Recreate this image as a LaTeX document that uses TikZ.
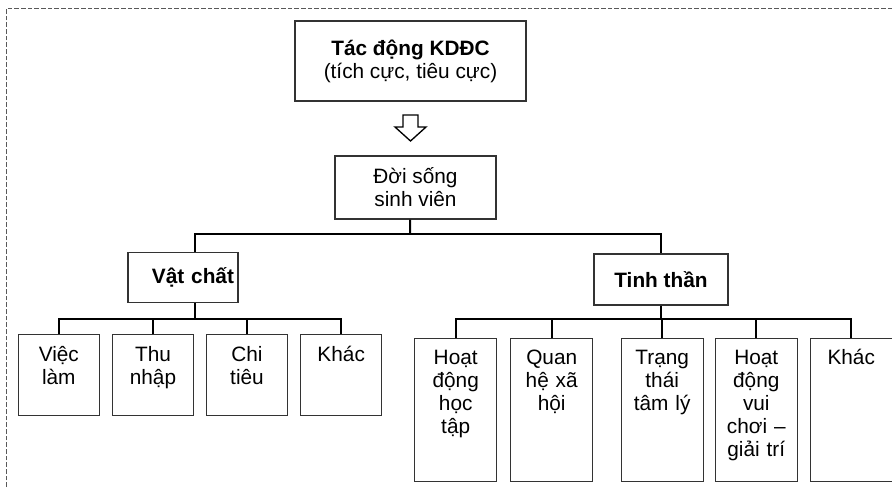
\documentclass[tikz,border=0pt]{standalone}
\usepackage{fontspec}
\setmainfont{Liberation Sans}
\newcommand{\diagfont}{\fontsize{15.6pt}{17.25pt}\selectfont}
\tikzset{
	box/.style={draw=black!80, line width=0.9pt, align=center, inner sep=0pt, font=\diagfont},
	leaf/.style={box, anchor=north, minimum width=60.75pt, text width=58pt, text height=20.25pt, text depth=40.5pt},
	rleaf/.style={box, anchor=north, minimum width=61.5pt, text width=58pt, text height=19.5pt, text depth=87.75pt},
	link/.style={line width=1.5pt},
}
\begin{document}
\begin{tikzpicture}[x=0.75pt,y=0.75pt,yscale=-1,xscale=1]
	\useasboundingbox (0,0) rectangle (892,487);

	%Straight Lines: frame
	\draw [black!65, line width=0.75pt, dash pattern=on 3.5pt off 1.5pt] (6.5,487) -- (6.5,8.3) -- (892,8.3);

	% Text Node
	\node [box, minimum width=173.25pt, minimum height=60pt] (kddc) at (410.5,61) {\textbf{Tác động KDĐC}\\(tích cực, tiêu cực)};
	%Shape: Down Arrow
	\draw [line width=1pt] (403,115) -- (418,115) -- (418,127) -- (426,127) -- (410.5,141) -- (395,127) -- (403,127) -- cycle;
	% Text Node
	\node [box, minimum width=120.75pt, minimum height=47.25pt] (doi) at (415.5,187.5) {Đời sống\\sinh viên};

	% Text Node
	\node [box, minimum height=37.2pt, text width=76.5pt, inner xsep=3pt, align=right, font=\diagfont\bfseries] (vc) at (183,277.5) {Vật chất};
	% Text Node
	\node [box, minimum width=100.5pt, minimum height=38.25pt, font=\diagfont\bfseries] (tt) at (661,279.5) {Tinh thần};

	% Text Node
	\node [leaf] (vl) at (58.8,334) {Việc\\làm};
	\node [leaf] (tn) at (153,334) {Thu\\nhập};
	\node [leaf] (ct) at (247,334) {Chi\\tiêu};
	\node [leaf] (kv) at (341.2,334) {Khác};

	% Text Node
	\node [rleaf] (ht) at (455.7,338) {Hoạt\\động\\học\\tập};
	\node [rleaf] (qh) at (551.7,338) {Quan\\hệ xã\\hội};
	\node [rleaf] (tl) at (662.2,338) {Trạng\\thái\\tâm lý};
	\node [rleaf] (vg) at (756.3,338) {Hoạt\\động\\vui\\chơi –\\giải trí};
	\node [rleaf] (kt) at (851.2,338) {Khác};

	\coordinate (j1) at (410,234.3);
	\coordinate (j2) at (195,319);
	\coordinate (j3) at (661,319);

	%Straight Lines
	\draw [link] ([xshift=-4pt]doi.south) -- (j1);
	\draw [link] ([xshift=9pt]vc.north) |- (j1) -| (tt.north);

	%Straight Lines
	\draw [link] ([xshift=9pt]vc.south) -- (j2);
	\draw [link] (vl.north) |- (j2) -| (kv.north);
	\foreach \n in {tn,ct} \draw [link] (\n.north) -- (\n.north |- j2);

	%Straight Lines
	\draw [link] (tt.south) -- (j3);
	\draw [link] (ht.north) |- (j3) -| (kt.north);
	\foreach \n in {qh,tl,vg} \draw [link] (\n.north) -- (\n.north |- j3);
\end{tikzpicture}
\end{document}
